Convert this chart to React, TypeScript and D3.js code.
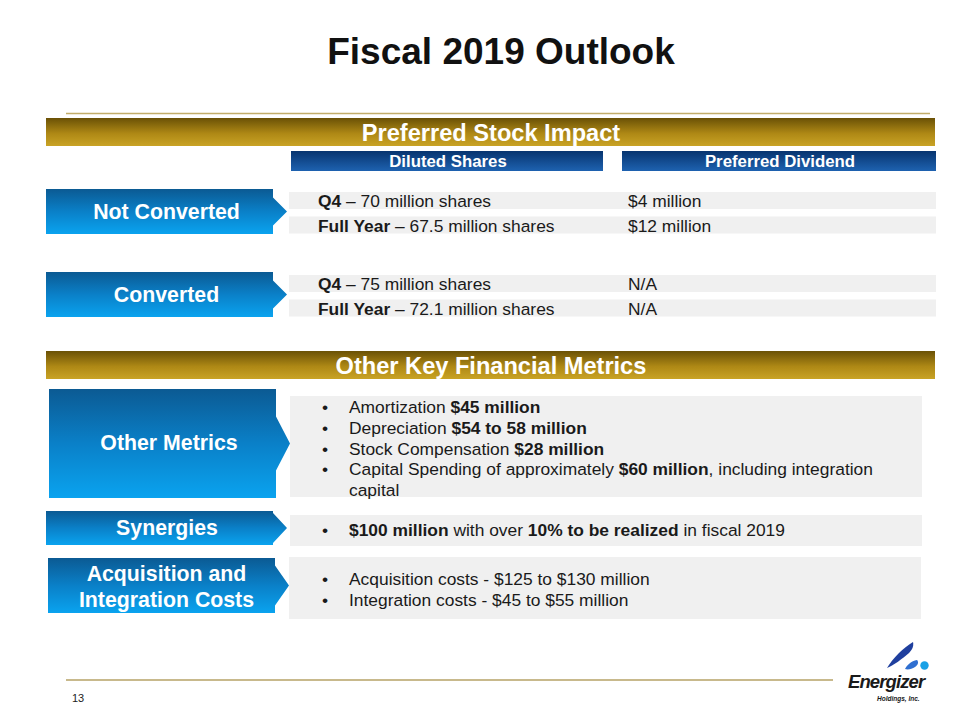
import React from "react";
import * as d3 from "d3";

type Seg = { t: string; b?: boolean };

const title = "Fiscal 2019 Outlook";
const sectionTitles = ["Preferred Stock Impact", "Other Key Financial Metrics"];
const columnHeaders = ["Diluted Shares", "Preferred Dividend"];
const scenarioLabels = ["Not Converted", "Converted"];
const sharesRows: Seg[][][] = [
  [
    [{ t: "Q4", b: true }, { t: " – 70 million shares" }],
    [{ t: "Full Year", b: true }, { t: " – 67.5 million shares" }],
  ],
  [
    [{ t: "Q4", b: true }, { t: " – 75 million shares" }],
    [{ t: "Full Year", b: true }, { t: " – 72.1 million shares" }],
  ],
];
const dividendRows: string[][] = [
  ["$4 million", "$12 million"],
  ["N/A", "N/A"],
];
const metricLabels = [["Other Metrics"], ["Synergies"], ["Acquisition and", "Integration Costs"]];
const metricBullets: Seg[][][] = [
  [
    [{ t: "Amortization " }, { t: "$45 million", b: true }],
    [{ t: "Depreciation " }, { t: "$54 to 58 million", b: true }],
    [{ t: "Stock Compensation " }, { t: "$28 million", b: true }],
    [{ t: "Capital Spending of approximately " }, { t: "$60 million", b: true }, { t: ", including integration" }],
    [{ t: "capital" }],
  ],
  [[{ t: "$100 million", b: true }, { t: " with over " }, { t: "10% to be realized", b: true }, { t: " in fiscal 2019" }]],
  [
    [{ t: "Acquisition costs - $125 to $130 million" }],
    [{ t: "Integration costs - $45 to $55 million" }],
  ],
];
const bulletFlags: boolean[][] = [
  [true, true, true, true, false],
  [true],
  [true, true],
];
const pageNumber = "13";

const FONT = "'Liberation Sans', Arial, Helvetica, sans-serif";
const BODY = 17.4;
const LABEL = 21.3;

function Rich({ segs, x, y, size }: { segs: Seg[]; x: number; y: number; size: number }) {
  return (
    <text x={x} y={y} fontSize={size} fontFamily={FONT} fill="#1a1a1a">
      {segs.map((s, i) => (
        <tspan key={i} fontWeight={s.b ? "bold" : "normal"}>
          {s.t}
        </tspan>
      ))}
    </text>
  );
}

function arrowPath(x0: number, y0: number, x1: number, y1: number, tip: number, half: number) {
  const cy = (y0 + y1) / 2;
  const p = d3.path();
  p.moveTo(x0, y0);
  p.lineTo(x1, y0);
  p.lineTo(x1, cy - half);
  p.lineTo(tip, cy);
  p.lineTo(x1, cy + half);
  p.lineTo(x1, y1);
  p.lineTo(x0, y1);
  p.closePath();
  return p.toString();
}

export default function App() {
  const rowY = d3.scaleOrdinal<number, number>().domain([0, 1]).range([189, 272]);
  const bulletY = d3.scaleLinear().domain([0, 1]).range([0, 20.8]);

  const metricBoxes = [
    { bx0: 49, bx1: 276, by0: 389, by1: 498, tip: 290, half: 27, gx0: 290, gx1: 922, gy0: 396, gy1: 497, ty: 413, lx: 169, ly: [450] },
    { bx0: 46, bx1: 273, by0: 511, by1: 545, tip: 287, half: 15, gx0: 290, gx1: 922, gy0: 515, gy1: 546, ty: 536, lx: 167, ly: [535] },
    { bx0: 48, bx1: 275, by0: 558, by1: 613, tip: 289, half: 20, gx0: 289, gx1: 921, gy0: 557, gy1: 619, ty: 585, lx: 166.5, ly: [581, 607] },
  ];

  return (
    <svg
      width={960}
      height={720}
      style={{ position: "absolute", left: 0, top: 0, display: "block", background: "#fff" }}
    >
      <defs>
        <linearGradient id="gold" x1="0" y1="0" x2="0" y2="1">
          <stop offset="0" stopColor="#6a5106" />
          <stop offset="0.55" stopColor="#ae8815" />
          <stop offset="1" stopColor="#c9a325" />
        </linearGradient>
        <linearGradient id="hdr" x1="0" y1="0" x2="0" y2="1">
          <stop offset="0" stopColor="#07346f" />
          <stop offset="1" stopColor="#1e62b0" />
        </linearGradient>
        <linearGradient id="blue" x1="0" y1="0" x2="0" y2="1">
          <stop offset="0" stopColor="#0b5a93" />
          <stop offset="0.5" stopColor="#0a80c8" />
          <stop offset="1" stopColor="#0aa3ef" />
        </linearGradient>
      </defs>

      <text x={501} y={64} textAnchor="middle" fontFamily={FONT} fontWeight="bold" fontSize={37} fill="#111">
        {title}
      </text>
      <line x1={66} x2={930} y1={113.5} y2={113.5} stroke="#c2ad6a" strokeWidth={1.5} />

      <rect x={46} y={118} width={889} height={28} fill="url(#gold)" />
      <text x={491} y={141} textAnchor="middle" fontFamily={FONT} fontWeight="bold" fontSize={23.6} fill="#fff">
        {sectionTitles[0]}
      </text>

      {[
        [291, 603],
        [622, 936],
      ].map(([a, b], i) => (
        <g key={i}>
          <rect x={a} y={151} width={b - a} height={20} fill="url(#hdr)" />
          <text x={(a + b) / 2 + 1} y={167} textAnchor="middle" fontFamily={FONT} fontWeight="bold" fontSize={16.8} fill="#fff">
            {columnHeaders[i]}
          </text>
        </g>
      ))}

      {scenarioLabels.map((lab, i) => {
        const y0 = rowY(i);
        return (
          <g key={lab}>
            <path d={arrowPath(46, y0, 273, y0 + 45, 287, 14)} fill="url(#blue)" />
            <text x={166.5} y={y0 + 30} textAnchor="middle" fontFamily={FONT} fontWeight="bold" fontSize={LABEL} fill="#fff">
              {lab}
            </text>
            {[0, 1].map((r) => {
              const ry = y0 + 3 + r * 24.5;
              return (
                <g key={r}>
                  <rect x={289} y={ry} width={311} height={17} fill="#f0f0f0" />
                  <rect x={600} y={ry} width={336} height={17} fill="#f0f0f0" />
                  <Rich segs={sharesRows[i][r]} x={318} y={ry + 15} size={BODY} />
                  <text x={628} y={ry + 15} fontFamily={FONT} fontSize={BODY} fill="#1a1a1a">
                    {dividendRows[i][r]}
                  </text>
                </g>
              );
            })}
          </g>
        );
      })}

      <rect x={46} y={351} width={889} height={28} fill="url(#gold)" />
      <text x={491} y={374} textAnchor="middle" fontFamily={FONT} fontWeight="bold" fontSize={23.6} fill="#fff">
        {sectionTitles[1]}
      </text>

      {metricBoxes.map((m, i) => (
        <g key={i}>
          <path d={arrowPath(m.bx0, m.by0, m.bx1, m.by1, m.tip, m.half)} fill="url(#blue)" />
          {metricLabels[i].map((l, j) => (
            <text key={j} x={m.lx} y={m.ly[j]} textAnchor="middle" fontFamily={FONT} fontWeight="bold" fontSize={LABEL} fill="#fff">
              {l}
            </text>
          ))}
          <rect x={m.gx0} y={m.gy0} width={m.gx1 - m.gx0} height={m.gy1 - m.gy0} fill="#f0f0f0" />
          {metricBullets[i].map((segs, j) => (
            <g key={j}>
              {bulletFlags[i][j] && (
                <text x={322} y={m.ty + bulletY(j)} fontFamily={FONT} fontSize={BODY} fill="#1a1a1a">
                  •
                </text>
              )}
              <Rich segs={segs} x={349} y={m.ty + bulletY(j)} size={BODY} />
            </g>
          ))}
        </g>
      ))}

      <line x1={66} x2={833} y1={680} y2={680} stroke="#c8b98c" strokeWidth={2} />
      <text x={72} y={702} fontFamily={FONT} fontSize={11} fill="#222">
        {pageNumber}
      </text>

      <g>
        <path d="M887,668 C893,658 903,648 913,642 C914,646 912,650 909,653 C902,659 894,665 887,668 Z" fill="#1f3f9e" />
        <path d="M905,669 C907,665 911,661 917,660 C919,662 918,665 915,667 C912,669 908,670 905,669 Z" fill="#2f6fd0" />
        <circle cx={924.5} cy={665.5} r={4.2} fill="#19a1e6" />
        <text x={848} y={688} fontFamily={FONT} fontWeight="bold" fontStyle="italic" fontSize={18.5} fill="#1a1a1a" letterSpacing={-0.9}>
          Energizer
        </text>
        <text x={877} y={701} fontFamily={FONT} fontStyle="italic" fontWeight="bold" fontSize={6.5} fill="#1a1a1a">
          Holdings, Inc.
        </text>
      </g>
    </svg>
  );
}
